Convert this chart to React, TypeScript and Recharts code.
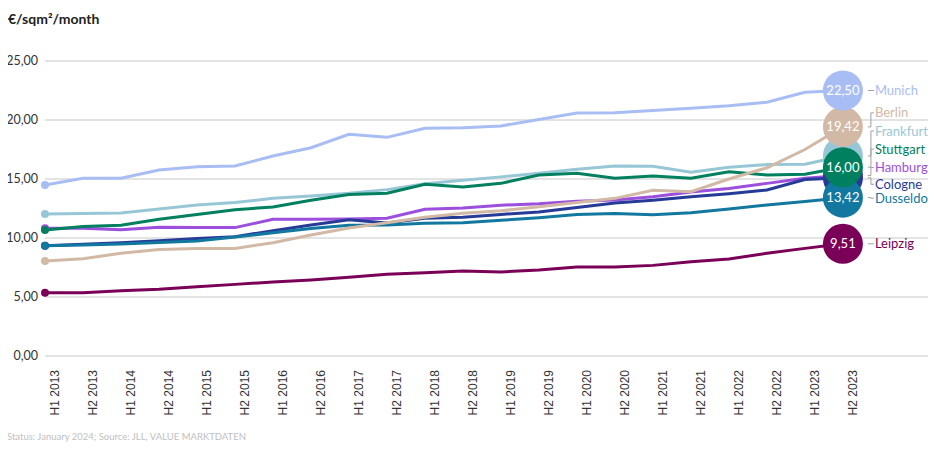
import React from 'react';
import { LineChart, Line, XAxis, YAxis, CartesianGrid } from 'recharts';

const periods = [
  'H1 2013', 'H2 2013', 'H1 2014', 'H2 2014', 'H1 2015', 'H2 2015',
  'H1 2016', 'H2 2016', 'H1 2017', 'H2 2017', 'H1 2018', 'H2 2018',
  'H1 2019', 'H2 2019', 'H1 2020', 'H2 2020', 'H1 2021', 'H2 2021',
  'H1 2022', 'H2 2022', 'H1 2023', 'H2 2023',
];

const munich = [14.49, 15.06, 15.06, 15.76, 16.04, 16.1, 16.95, 17.65, 18.79, 18.53, 19.3, 19.35, 19.5, 20.05, 20.6, 20.62, 20.8, 21.0, 21.2, 21.5, 22.35, 22.5];
const berlin = [8.05, 8.25, 8.7, 9.02, 9.12, 9.12, 9.6, 10.25, 10.85, 11.3, 11.75, 12.09, 12.3, 12.65, 13.0, 13.36, 14.05, 13.93, 15.0, 15.95, 17.5, 19.42];
const frankfurt = [12.03, 12.08, 12.12, 12.45, 12.8, 13.0, 13.36, 13.56, 13.79, 14.1, 14.6, 14.9, 15.18, 15.48, 15.82, 16.1, 16.08, 15.57, 15.99, 16.22, 16.26, 16.95];
const stuttgart = [10.68, 10.98, 11.08, 11.58, 12.0, 12.4, 12.63, 13.2, 13.68, 13.79, 14.55, 14.33, 14.63, 15.34, 15.48, 15.06, 15.25, 15.06, 15.62, 15.34, 15.4, 16.0];
const hamburg = [10.82, 10.82, 10.7, 10.92, 10.88, 10.88, 11.58, 11.58, 11.6, 11.67, 12.44, 12.55, 12.78, 12.9, 13.12, 13.22, 13.5, 13.9, 14.2, 14.63, 15.06, 15.3];
const cologne = [9.35, 9.47, 9.6, 9.77, 9.95, 10.11, 10.62, 11.1, 11.55, 11.28, 11.67, 11.75, 12.0, 12.2, 12.58, 12.97, 13.2, 13.5, 13.75, 14.07, 14.95, 15.1];
const dusseldorf = [9.35, 9.4, 9.5, 9.62, 9.75, 10.08, 10.45, 10.8, 11.07, 11.1, 11.24, 11.3, 11.5, 11.72, 12.0, 12.07, 11.98, 12.15, 12.45, 12.8, 13.1, 13.42];
const leipzig = [5.37, 5.37, 5.54, 5.65, 5.87, 6.07, 6.27, 6.44, 6.67, 6.92, 7.06, 7.2, 7.12, 7.29, 7.55, 7.55, 7.68, 7.99, 8.22, 8.7, 9.12, 9.51];

const yTicks = [0, 5, 10, 15, 20, 25];

// drawn back to front; labelShift moves the end label off its point (px),
// showValue=false where the bubble sits hidden under a neighbour
const series = [
  { key: 'Hamburg', values: hamburg, color: '#9c4fdc', labelShift: -8, showValue: false },
  { key: 'Cologne', values: cologne, color: '#263b97', labelShift: 6.5, showValue: false },
  { key: 'Dusseldorf', values: dusseldorf, color: '#12789f', labelShift: 0.5, showValue: true },
  { key: 'Frankfurt', values: frankfurt, color: '#97c7d6', labelShift: -25, showValue: false },
  { key: 'Stuttgart', values: stuttgart, color: '#00805e', labelShift: -18, showValue: true },
  { key: 'Leipzig', values: leipzig, color: '#7a0057', labelShift: 0, showValue: true },
  { key: 'Berlin', values: berlin, color: '#d2b9a6', labelShift: -14, showValue: true },
  { key: 'Munich', values: munich, color: '#a8bdf4', labelShift: 0, showValue: true },
];

const data = periods.map((p, i) => {
  const row: any = { i, period: p };
  series.forEach((s) => (row[s.key] = s.values[i]));
  return row;
});

const last = periods.length - 1;
const FONT = 'Lato, "Noto Sans", sans-serif';
const fmt = (v: number) => v.toFixed(2).replace('.', ',');

const XTick = ({ x, y, payload }: any) => (
  <g transform={`translate(${x + 10},${y})`}>
    <text
      transform="rotate(-90)"
      textAnchor="end"
      dy="0.35em"
      fontSize={12}
      fontFamily='"Liberation Sans", Arial, sans-serif'
      fill="#333"
    >
      {periods[payload.value]}
    </text>
  </g>
);

const startDot = (color: string) => (props: any) => {
  const { cx, cy, index } = props;
  if (index !== 0) return <g key={`s-${index}`} />;
  return <circle key={`s-${index}`} cx={cx} cy={cy} r={4} fill={color} />;
};

const endBubble = (s: typeof series[number]) => (props: any) => {
  const { cx, cy, index, value } = props;
  if (index !== last) return <g key={`e-${index}`} />;
  const ly = cy + s.labelShift;
  return (
    <g key={`e-${index}`}>
      <circle cx={cx} cy={cy} r={20} fill={s.color} />
      {s.showValue && (
        <text
          x={cx}
          y={cy}
          dy="0.35em"
          textAnchor="middle"
          fontSize={13}
          fontFamily={FONT}
          fill="#fff"
        >
          {fmt(Array.isArray(value) ? value[1] : value)}
        </text>
      )}
      <path
        d={`M${cx + 25},${cy} H${cx + 28} V${ly} H${cx + 31}`}
        fill="none"
        stroke="#a0a0a0"
        strokeWidth={1}
      />
      <text x={cx + 32} y={ly} dy="0.35em" fontSize={13} fontFamily={FONT} fill={s.color}>
        {s.key}
      </text>
    </g>
  );
};

export default function App() {
  return (
    <div style={{ position: 'relative', width: 936, height: 454, margin: -8 }}>
      <LineChart
        width={936}
        height={454}
        data={data}
        margin={{ top: 61, right: 0, left: 0, bottom: 38 }}
      >
        <CartesianGrid vertical={false} stroke="#c8c8c8" />
        <XAxis
          dataKey="i"
          type="number"
          domain={[0, 23.45]}
          ticks={periods.map((_, i) => i)}
          interval={0}
          axisLine={false}
          tickLine={false}
          tickSize={0}
          tickMargin={14}
          height={60}
          tick={<XTick />}
        />
        <YAxis
          domain={[0, 25]}
          ticks={yTicks}
          width={45}
          axisLine={false}
          tickLine={false}
          tickSize={0}
          tickMargin={7}
          tickFormatter={fmt}
          tick={{ fontSize: 12.5, fontFamily: FONT, fill: '#333' }}
        />
        {series.map((s) => (
          <Line
            key={s.key}
            dataKey={s.key}
            stroke={s.color}
            strokeWidth={3}
            dot={startDot(s.color)}
            activeDot={false}
            isAnimationActive={false}
          />
        ))}
        {series.map((s) => (
          <Line
            key={`${s.key}-end`}
            dataKey={s.key}
            stroke="none"
            dot={endBubble(s)}
            activeDot={false}
            legendType="none"
            isAnimationActive={false}
          />
        ))}
      </LineChart>
      <svg
        width={936}
        height={454}
        style={{ position: 'absolute', left: 0, top: 0, pointerEvents: 'none' }}
      >
        <text x={8} y={24} fontSize={14} fontWeight={700} fontFamily={FONT} fill="#222">
          €/sqm²/month
        </text>
        <text x={7} y={440} fontSize={9.5} fontFamily={FONT} fill="#c0c0c0">
          Status: January 2024; Source: JLL, VALUE MARKTDATEN
        </text>
      </svg>
    </div>
  );
}
